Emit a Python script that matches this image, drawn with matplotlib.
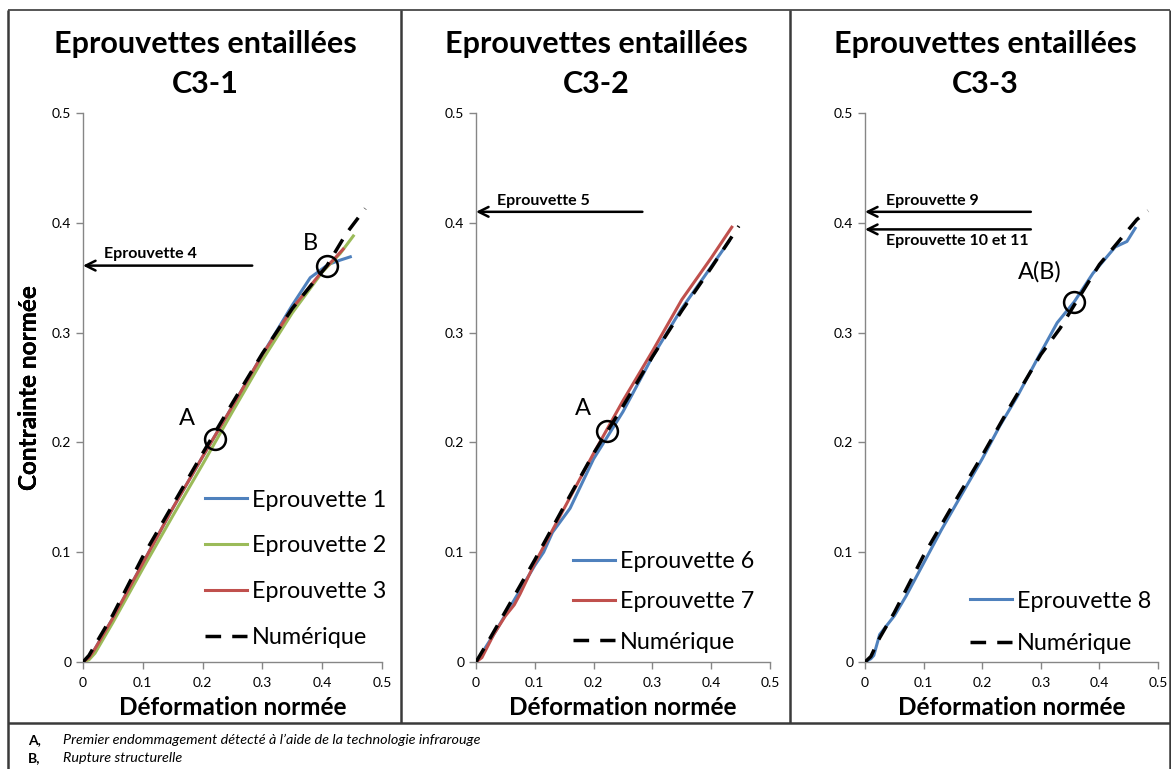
import matplotlib
matplotlib.use("Agg")
import matplotlib.pyplot as plt
from matplotlib.lines import Line2D

plt.rcParams["font.family"] = ["Lato", "DejaVu Sans"]

W, H = 1171, 769

# couleurs type Excel
BLEU = "#4F81BD"
ROUGE = "#C0504D"
VERT = "#9BBB59"
GRIS = "#868686"

# ---- C3-1 ----
c31_e1_x = [0, 0.01, 0.02, 0.05, 0.1, 0.15, 0.2, 0.25, 0.3, 0.35, 0.38, 0.41, 0.43, 0.447]
c31_e1_y = [0, 0.004, 0.012, 0.04, 0.09, 0.14, 0.187, 0.233, 0.28, 0.325, 0.35, 0.362, 0.366, 0.369]
c31_e2_x = [0, 0.01, 0.02, 0.05, 0.1, 0.15, 0.2, 0.25, 0.3, 0.35, 0.4, 0.43, 0.452]
c31_e2_y = [0, 0.002, 0.008, 0.036, 0.085, 0.133, 0.18, 0.228, 0.275, 0.318, 0.355, 0.372, 0.388]
c31_e3_x = [0, 0.01, 0.02, 0.05, 0.1, 0.15, 0.2, 0.25, 0.3, 0.35, 0.4, 0.42, 0.435]
c31_e3_y = [0, 0.004, 0.012, 0.04, 0.09, 0.14, 0.187, 0.233, 0.28, 0.322, 0.356, 0.367, 0.376]
c31_num_x = [0, 0.01, 0.025, 0.05, 0.1, 0.15, 0.2, 0.25, 0.3, 0.35, 0.408, 0.44, 0.472]
c31_num_y = [0, 0.006, 0.02, 0.043, 0.096, 0.143, 0.19, 0.236, 0.281, 0.322, 0.361, 0.39, 0.413]

# ---- C3-2 ----
c32_e6_x = [0, 0.01, 0.03, 0.06, 0.08, 0.1, 0.115, 0.13, 0.16, 0.2, 0.25, 0.3, 0.35, 0.4, 0.43]
c32_e6_y = [0, 0.008, 0.025, 0.052, 0.07, 0.088, 0.1, 0.118, 0.14, 0.185, 0.228, 0.278, 0.322, 0.36, 0.383]
c32_e7_x = [0, 0.01, 0.03, 0.05, 0.065, 0.075, 0.1, 0.15, 0.2, 0.25, 0.3, 0.35, 0.4, 0.435]
c32_e7_y = [0, 0.004, 0.025, 0.042, 0.052, 0.062, 0.09, 0.14, 0.19, 0.238, 0.283, 0.33, 0.368, 0.396]
c32_num_x = [0, 0.02, 0.05, 0.1, 0.15, 0.2, 0.25, 0.3, 0.35, 0.4, 0.447]
c32_num_y = [0, 0.018, 0.046, 0.093, 0.142, 0.19, 0.233, 0.278, 0.32, 0.359, 0.397]

# ---- C3-3 ----
c33_e8_x = [0, 0.01, 0.015, 0.025, 0.05, 0.07, 0.1, 0.13, 0.16, 0.2, 0.23, 0.26, 0.293, 0.328,
            0.357, 0.389, 0.427, 0.447, 0.461]
c33_e8_y = [0, 0.003, 0.006, 0.025, 0.042, 0.06, 0.09, 0.12, 0.148, 0.185, 0.215, 0.242, 0.275, 0.309,
            0.328, 0.354, 0.378, 0.383, 0.395]
c33_num_x = [0, 0.01, 0.025, 0.05, 0.1, 0.15, 0.2, 0.25, 0.3, 0.333, 0.357, 0.4, 0.464, 0.483]
c33_num_y = [0, 0.005, 0.022, 0.045, 0.097, 0.143, 0.188, 0.235, 0.28, 0.304, 0.325, 0.362, 0.403, 0.411]

# points remarquables (A, B) : libellé, x, y, décalage du texte en pixels
pts_c31 = [("A", 0.22, 0.203, -28, 21), ("B", 0.408, 0.361, -17, 22)]
pts_c32 = [("A", 0.223, 0.21, -24, 23)]
pts_c33 = [("A(B)", 0.357, 0.328, -34, 30)]
fleches_c31 = [("Eprouvette 4", 0.361, "above")]
fleches_c32 = [("Eprouvette 5", 0.41, "above")]
fleches_c33 = [("Eprouvette 9", 0.41, "above"), ("Eprouvette 10 et 11", 0.394, "below")]

titres = ["Eprouvettes entaillées\nC3-1", "Eprouvettes entaillées\nC3-2", "Eprouvettes entaillées\nC3-3"]


def fx(x):
    return x / W


def fy(y):
    return 1 - y / H


fig = plt.figure(figsize=(W / 100, H / 100), dpi=100)

# cadre du tableau
def trait(x0, y0, x1, y1, lw=1.8, c="#3a3a3a"):
    fig.add_artist(Line2D([fx(x0), fx(x1)], [fy(y0), fy(y1)], lw=lw, color=c,
                          transform=fig.transFigure, solid_capstyle="butt"))

trait(8, 10, 1170, 10, lw=1.4, c="#555555")
trait(8, 10, 8, 769)
trait(1170, 10, 1170, 769)
trait(401, 10, 401, 723)
trait(790, 10, 790, 723)
trait(8, 723, 1170, 723)

gauches = [83, 476, 865]
largeurs = [299, 294, 293]
centres = [205, 596, 985]


def panneau(i, courbes, pts, fleches, leg_pos, leg_sp):
    ax = fig.add_axes([fx(gauches[i]), fy(662), largeurs[i] / W, 549 / H])
    for xs, ys, c, lab in courbes:
        if c == "k":
            ax.plot(xs, ys, color="black", lw=2.5, ls=(0, (4.5, 3.2)), label=lab, zorder=4)
        else:
            ax.plot(xs, ys, color=c, lw=2.2, label=lab, zorder=3)
    ax.set_xlim(0, 0.5)
    ax.set_ylim(0, 0.5)
    ax.set_xticks([0, 0.1, 0.2, 0.3, 0.4, 0.5])
    ax.set_yticks([0, 0.1, 0.2, 0.3, 0.4, 0.5])
    ax.set_xticklabels(["0", "0.1", "0.2", "0.3", "0.4", "0.5"])
    ax.set_yticklabels(["0", "0.1", "0.2", "0.3", "0.4", "0.5"])
    for s in ["top", "right"]:
        ax.spines[s].set_visible(False)
    for s in ["left", "bottom"]:
        ax.spines[s].set_color(GRIS)
        ax.spines[s].set_linewidth(1.0)
    ax.tick_params(colors=GRIS, labelcolor="black", labelsize=10, length=5, width=1.0)
    ax.tick_params(axis="x", pad=6)
    ax.set_xlabel("Déformation normée", fontsize=17.5, fontweight="bold", labelpad=5)
    ax.set_ylabel("Contrainte normée", fontsize=17.5, fontweight="bold")
    ax.yaxis.set_label_coords((41 - gauches[i]) / largeurs[i], (662 - 388) / 549)
    ax.patch.set_alpha(0)

    for lab, x, y, dx, dy in pts:
        ax.plot([x], [y], "o", ms=15, mfc="none", mec="black", mew=1.8, zorder=6)
        ax.annotate(lab, (x, y), xytext=(dx * 0.72, dy * 0.72),
                    textcoords="offset points", fontsize=17, ha="center", va="center")

    for lab, y, cote in fleches:
        ax.annotate("", xy=(0, y), xytext=(0.283, y), xycoords="data",
                    arrowprops=dict(arrowstyle="->,head_length=0.7,head_width=0.35",
                                    lw=1.8, color="black", shrinkA=0, shrinkB=0),
                    annotation_clip=False)
        ax.annotate(lab, (0.035, y), xytext=(0, 3 if cote == "above" else -3),
                    textcoords="offset points", fontsize=11.5, fontweight="bold",
                    ha="left", va="bottom" if cote == "above" else "top")

    ax.legend(loc="upper left", bbox_to_anchor=leg_pos, frameon=False, fontsize=16.8,
              handlelength=1.8, handletextpad=0.2, labelspacing=leg_sp, borderpad=0,
              borderaxespad=0)
    fig.text(fx(centres[i]), fy(64), titres[i], fontsize=22, fontweight="bold",
             ha="center", va="center", linespacing=1.55)
    return ax


panneau(0, [(c31_e1_x, c31_e1_y, BLEU, "Eprouvette 1"),
            (c31_e2_x, c31_e2_y, VERT, "Eprouvette 2"),
            (c31_e3_x, c31_e3_y, ROUGE, "Eprouvette 3"),
            (c31_num_x, c31_num_y, "k", "Numérique")],
        pts_c31, fleches_c31, (0.408, 0.314), 1.06)
panneau(1, [(c32_e6_x, c32_e6_y, BLEU, "Eprouvette 6"),
            (c32_e7_x, c32_e7_y, ROUGE, "Eprouvette 7"),
            (c32_num_x, c32_num_y, "k", "Numérique")],
        pts_c32, fleches_c32, (0.33, 0.2025), 0.83)
panneau(2, [(c33_e8_x, c33_e8_y, BLEU, "Eprouvette 8"),
            (c33_num_x, c33_num_y, "k", "Numérique")],
        pts_c33, fleches_c33, (0.358, 0.13), 0.91)

# notes de bas de tableau
fig.text(fx(28), fy(740), "A,", fontsize=10, fontweight="bold", va="center")
fig.text(fx(63), fy(740), "Premier endommagement détecté à l\u2019aide de la technologie infrarouge",
         fontsize=10.4, style="italic", va="center")
fig.text(fx(28), fy(758), "B,", fontsize=10, fontweight="bold", va="center")
fig.text(fx(63), fy(758), "Rupture structurelle", fontsize=10.4, style="italic", va="center")

fig.savefig("out.png", dpi=100)
